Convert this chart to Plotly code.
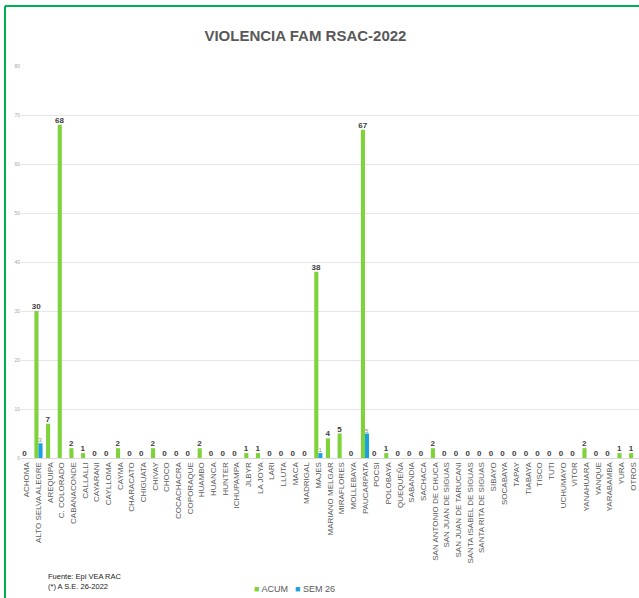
import plotly.graph_objects as go

categories = ["ACHOMA", "ALTO SELVA ALEGRE", "AREQUIPA", "C. COLORADO", "CABANACONDE", "CALLALLI",
              "CAYARANI", "CAYLLOMA", "CAYMA", "CHARACATO", "CHIGUATA", "CHIVAY", "CHOCO",
              "COCACHACRA", "COPORAQUE", "HUAMBO", "HUANCA", "HUNTER", "ICHUPAMPA", "JLBYR",
              "LA JOYA", "LARI", "LLUTA", "MACA", "MADRIGAL", "MAJES", "MARIANO MELGAR",
              "MIRAFLORES", "MOLLEBAYA", "PAUCARPATA", "POCSI", "POLOBAYA", "QUEQUEÑA",
              "SABANDIA", "SACHACA", "SAN ANTONIO DE CHUCA", "SAN JUAN DE SIGUAS",
              "SAN JUAN DE TARUCANI", "SANTA ISABEL DE SIGUAS", "SANTA RITA DE SIGUAS",
              "SIBAYO", "SOCABAYA", "TAPAY", "TIABAYA", "TISCO", "TUTI", "UCHUMAYO", "VITOR",
              "YANAHUARA", "YANQUE", "YARABAMBA", "YURA", "OTROS"]

acum = [0, 30, 7, 68, 2, 1, 0, 0, 2, 0, 0, 2, 0, 0, 0, 2, 0, 0, 0, 1,
        1, 0, 0, 0, 0, 38, 4, 5, 0, 67, 0, 1, 0, 0, 0, 2, 0, 0, 0, 0,
        0, 0, 0, 0, 0, 0, 0, 0, 2, 0, 0, 1, 1]

sem26 = [0, 3, 0, 0, 0, 0, 0, 0, 0, 0, 0, 0, 0, 0, 0, 0, 0, 0, 0, 0,
         0, 0, 0, 0, 0, 1, 0, 0, 0, 5, 0, 0, 0, 0, 0, 0, 0, 0, 0, 0,
         0, 0, 0, 0, 0, 0, 0, 0, 0, 0, 0, 0, 0]

y_ticks = [0, 10, 20, 30, 40, 50, 60, 70, 80]
series_names = ["ACUM", "SEM 26"]
series_colors = ["#7ed23a", "#1ba1e2"]

fig = go.Figure()
fig.add_trace(go.Bar(
    x=categories, y=acum, name=series_names[0],
    marker=dict(color=series_colors[0], line=dict(width=0)),
    text=[str(v) for v in acum], texttemplate="<b>%{text}</b>",
    textposition="outside", constraintext="none",
    textfont=dict(family="Liberation Sans Narrow, Liberation Sans, Arial", size=8, color="#404040"),
    cliponaxis=False,
))
fig.add_trace(go.Bar(
    x=categories, y=sem26, name=series_names[1],
    marker=dict(color=series_colors[1], line=dict(width=0)),
    text=[str(v) if v else "" for v in sem26], textposition="outside", constraintext="none",
    textfont=dict(family="Liberation Sans Narrow, Liberation Sans, Arial", size=6, color="#8a8a8a"),
    cliponaxis=False,
))

fig.update_layout(
    width=639, height=598,
    paper_bgcolor="white", plot_bgcolor="white",
    barmode="group", bargap=0.3, bargroupgap=0.0,
    margin=dict(l=21, r=0, t=66, b=140),
    title=dict(text="<b>VIOLENCIA FAM RSAC-2022</b>", x=0.478, xanchor="center",
               y=0.94, yanchor="middle",
               font=dict(family="Liberation Sans Narrow, Liberation Sans, Arial", size=15,
                         color="#595959")),
    showlegend=False,
    font=dict(family="Liberation Sans, Arial", color="#595959"),
)

fig.update_xaxes(
    tickangle=-90, tickfont=dict(family="Liberation Sans, Arial", size=8, color="#595959"),
    showline=True, linecolor="#d9d9d9", linewidth=1, ticks="", showgrid=False,
    automargin=False,
)
fig.update_yaxes(
    range=[0, 80], tickvals=y_ticks, ticktext=[str(v) for v in y_ticks],
    tickfont=dict(size=5, color="#a6a6a6"), showgrid=True, gridcolor="#e6e6e6",
    gridwidth=1, zeroline=False, showline=False, ticks="", automargin=False,
)

# frame lines (left and top)
fig.add_shape(type="line", xref="paper", yref="paper", x0=-0.0259, x1=1.0, y0=1.153, y1=1.153,
              line=dict(color="#00b050", width=2))
fig.add_shape(type="line", xref="paper", yref="paper", x0=-0.0259, x1=-0.0259, y0=1.153, y1=-0.36,
              line=dict(color="#00b050", width=2))

# legend (compact, as in the reference)
legend_x = [0.373, 0.440]
for name, color, lx in zip(series_names, series_colors, legend_x):
    fig.add_annotation(text=f"<span style='color:{color}'>■</span> {name}", xref="paper",
                       yref="paper", x=lx, y=-0.334, xanchor="left", yanchor="middle",
                       showarrow=False,
                       font=dict(family="Liberation Sans Narrow, Liberation Sans, Arial", size=9,
                                 color="#595959"))

fig.add_annotation(text="Fuente: Epi VEA RAC<br>(*) A S.E. 26-2022", xref="paper", yref="paper",
                   x=0.041, y=-0.316, xanchor="left", yanchor="middle", align="left",
                   showarrow=False,
                   font=dict(family="Liberation Sans Narrow, Liberation Sans, Arial", size=7.5,
                             color="#222222"))

fig.write_html("out.html", config={"displayModeBar": False},
               post_script="document.body.style.margin='0';")
